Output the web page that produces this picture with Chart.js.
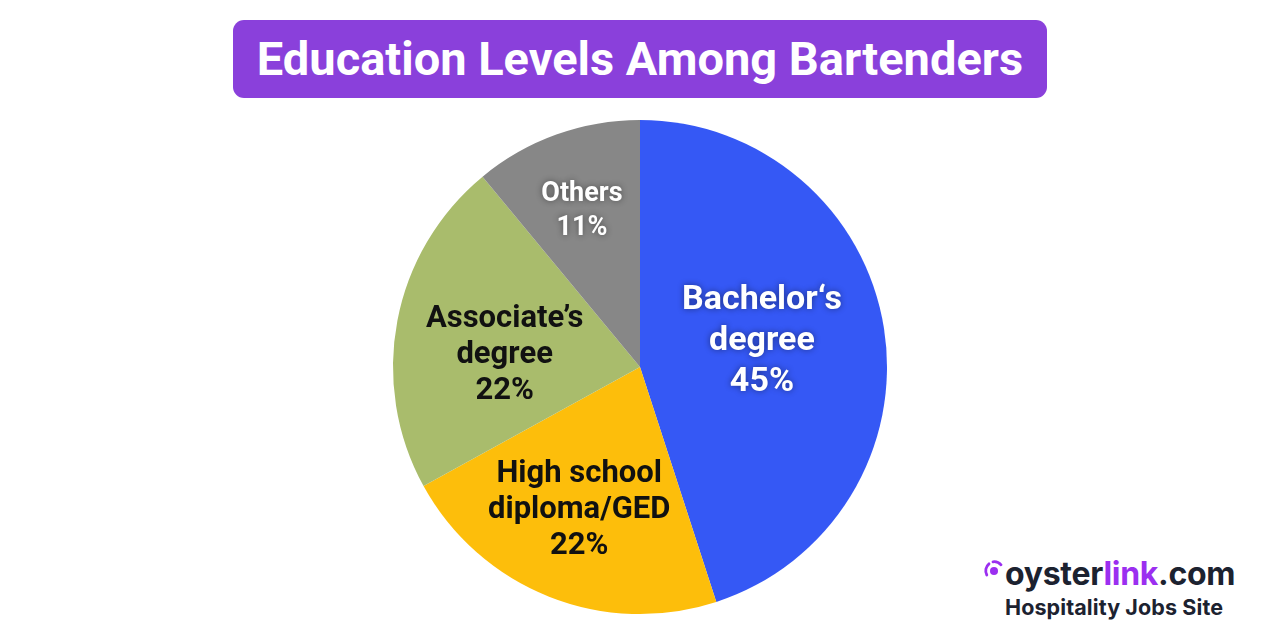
<!DOCTYPE html>
<html>
<head>
<meta charset="utf-8">
<script src="https://cdn.jsdelivr.net/npm/chart.js@4"></script>
<style>
  body { margin: 0; width: 1280px; height: 640px; background: #fff; position: relative; overflow: hidden; font-family: Roboto, sans-serif; }
  .title {
    position: absolute; left: 233px; top: 20px; width: 814px; height: 78px;
    background: #8a40db; border-radius: 11px; color: #fff;
    font-weight: 700; font-size: 47px; line-height: 78px; text-align: center;
  }
  .chart-box { position: absolute; left: 380px; top: 107px; width: 520px; height: 520px; }
  .logo { position: absolute; left: 985px; top: 554px; color: #1c2230; font-weight: 700; font-family: Inter, Roboto, sans-serif; }
  .logo .site { font-size: 32px; letter-spacing: -0.3px; margin-left: 20px; line-height: 40px; }
  .logo .site span { color: #9b2ff0; }
  .logo .tag { font-size: 21.5px; margin-left: 20px; letter-spacing: 0.1px; }
  .logo .dot { position: absolute; left: -2px; top: 6px; }
</style>
</head>
<body>
<div class="title">Education Levels Among Bartenders</div>
<div class="chart-box"><canvas id="pieChart"></canvas></div>
<div class="logo">
  <svg class="dot" width="22" height="20" viewBox="0 0 22 20">
    <circle cx="11" cy="11" r="4" fill="#9b2ff0"/>
    <path d="M3.8 15 A9 9 0 0 1 6 3.8" stroke="#9b2ff0" stroke-width="2.8" fill="none" stroke-linecap="round"/>
    <path d="M10 1.8 A9 9 0 0 1 18 4.8" stroke="#9b2ff0" stroke-width="2.8" fill="none" stroke-linecap="round"/>
  </svg>
  <div class="site">oyster<span>link</span>.com</div>
  <div class="tag">Hospitality Jobs Site</div>
</div>
<script>
// Data
const categories = [['Bachelor\u2018s', 'degree'], ['High school', 'diploma/GED'], ['Associate\u2019s', 'degree'], ['Others']];
const shares = [45, 22, 22, 11];
const sliceColors = ['#3558f5', '#fdbe0b', '#a9bc6c', '#878787'];

// label styling per slice (radius as fraction of the pie radius, angle shift in degrees)
const labelStyle = [
  { color: '#fff', size: 34, lineH: 41, radius: 0.504, shift: -2.6, shadow: true },
  { color: '#111', size: 31, lineH: 36, radius: 0.63, shift: 1.4, shadow: false },
  { color: '#111', size: 31, lineH: 36, radius: 0.55, shift: -5.9, shadow: false },
  { color: '#fff', size: 27, lineH: 34, radius: 0.674, shift: -0.6, shadow: true }
];

const sliceLabels = {
  id: 'sliceLabels',
  afterDraw(chart) {
    const ctx = chart.ctx;
    const meta = chart.getDatasetMeta(0);
    meta.data.forEach((arc, i) => {
      const st = labelStyle[i];
      const mid = (arc.startAngle + arc.endAngle) / 2 + st.shift * Math.PI / 180;
      const r = arc.outerRadius * st.radius;
      const x = arc.x + Math.cos(mid) * r;
      const y = arc.y + Math.sin(mid) * r;
      const lines = categories[i].concat([shares[i] + '%']);
      ctx.save();
      ctx.font = `bold ${st.size}px Roboto`;
      ctx.textAlign = 'center';
      ctx.textBaseline = 'middle';
      ctx.fillStyle = st.color;
      if (st.shadow) {
        ctx.shadowColor = 'rgba(0,0,0,0.45)';
        ctx.shadowBlur = 6;
      }
      const top = y - (lines.length - 1) * st.lineH / 2;
      lines.forEach((t, j) => ctx.fillText(t, x, top + j * st.lineH));
      ctx.restore();
    });
  }
};

new Chart(document.getElementById('pieChart').getContext('2d'), {
  type: 'pie',
  data: {
    labels: categories.map(c => c.join(' ')),
    datasets: [{
      data: shares,
      backgroundColor: sliceColors,
      borderWidth: 0
    }]
  },
  options: {
    responsive: true,
    maintainAspectRatio: false,
    animation: false,
    layout: { padding: 13 },
    plugins: {
      legend: { display: false },
      tooltip: { enabled: false }
    }
  },
  plugins: [sliceLabels]
});
</script>
</body>
</html>
